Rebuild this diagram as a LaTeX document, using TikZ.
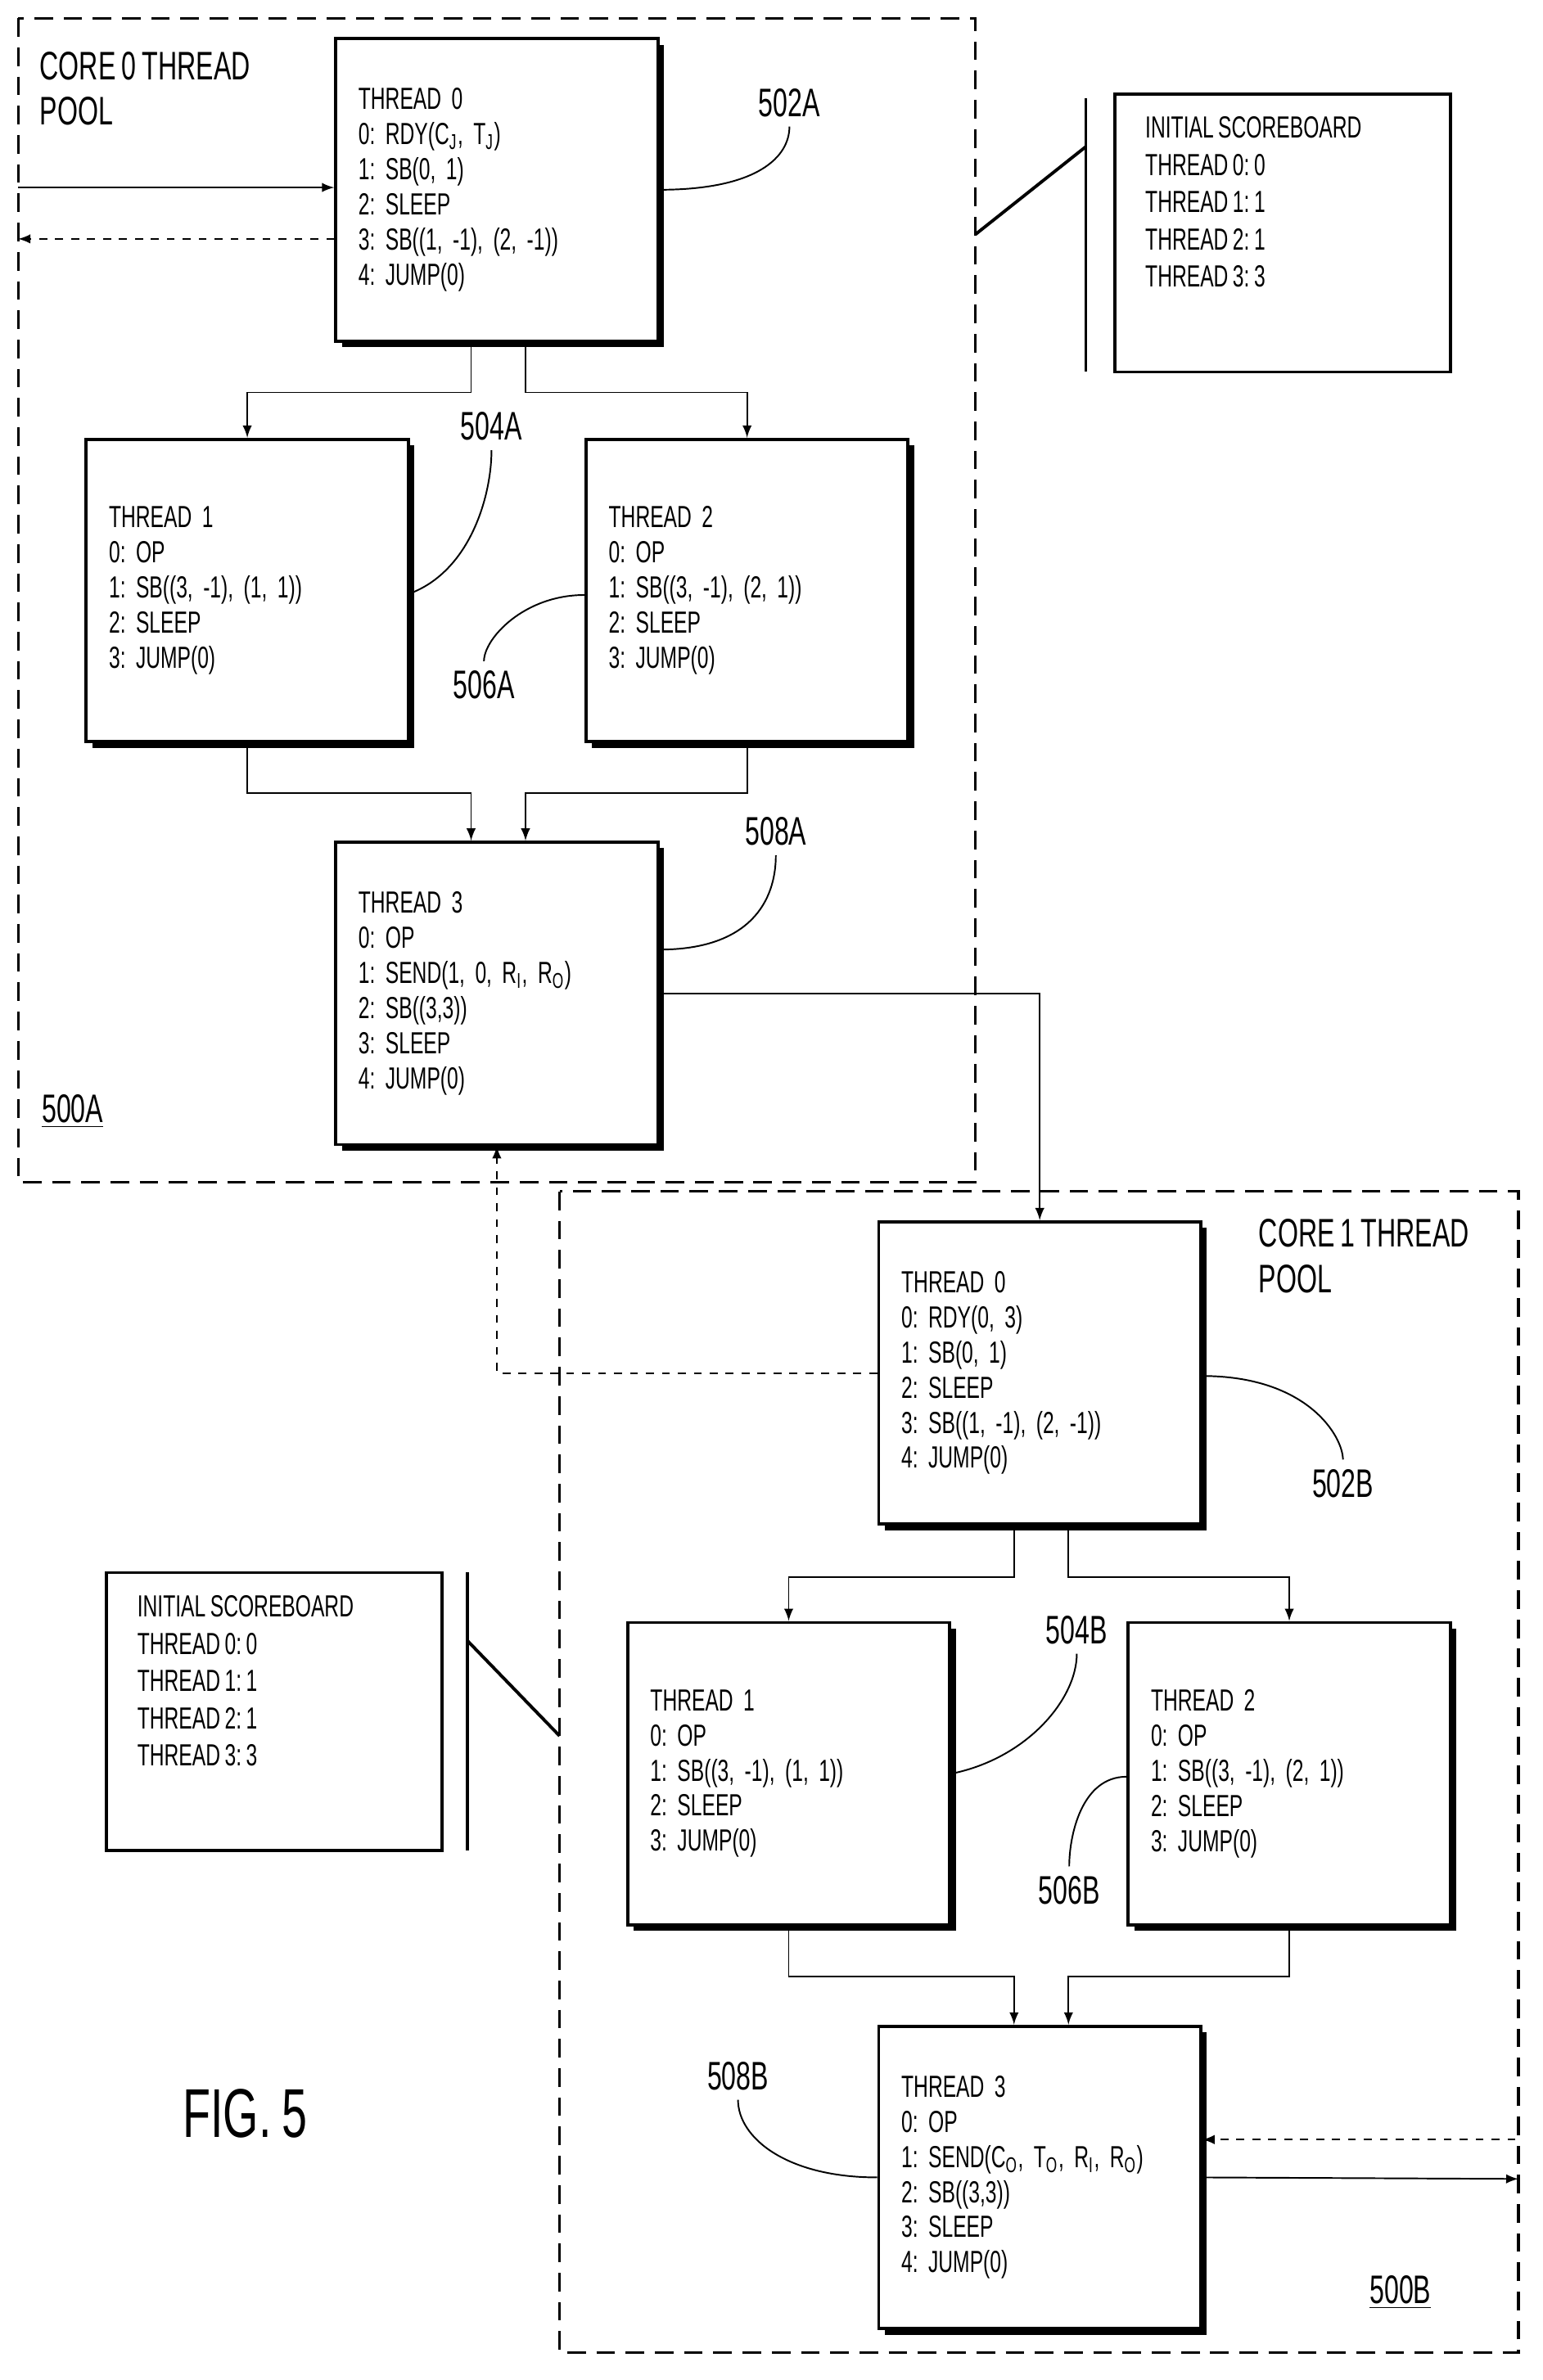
\documentclass[tikz,border=0pt]{standalone}
\usepackage{fontspec}
\setmainfont{Liberation Sans}[FakeStretch=0.66, WordSpace=0.8]
\frenchspacing
\usetikzlibrary{arrows, shapes, positioning, shadows}

\begin{document}
\frenchspacing
\begin{tikzpicture}[x=0.02cm,y=-0.02cm,->,>=latex,line width=0.6pt]

	\tikzset{thread box/.style={draw, -, line width=1.2pt, fill=white,
			minimum width=4.26cm, minimum height=4cm,
			text width=3.66cm, align=left,
			font=\fontsize{11.5}{13.2}\selectfont\frenchspacing,
			drop shadow={shadow xshift=0.08cm, shadow yshift=-0.08cm, fill=black, opacity=1}}}
	\tikzset{score box/.style={draw, -, line width=1.2pt,
			minimum width=4.44cm, minimum height=3.68cm}}
	\tikzset{score text/.style={anchor=north west, align=left,
			font=\fontsize{11.5}{14}\selectfont}}
	\tikzset{ref label/.style={font=\fontsize{15}{17}\selectfont}}
	\tikzset{pool/.style={-, dashed, line width=1pt, dash pattern=on 7pt off 4pt}}

	\useasboundingbox (0,0) rectangle (1020,1574);

	% thread pools
	\draw[pool] (12,12) rectangle (645,782);
	\draw[pool] (370,788) rectangle (1004,1556);
	\node[ref label, anchor=north west, align=left] (poola) at (20,28) {CORE 0 THREAD\\POOL};
	\node[ref label, anchor=north west, align=left] (poolb) at (826,800) {CORE 1 THREAD\\POOL};

	% core 0
	\node[thread box] (t0a) at (328.5,125.5) {THREAD 0\\0: RDY(C\textsubscript{J}, T\textsubscript{J})\\1: SB(0, 1)\\2: SLEEP\\3: SB((1, -1), (2, -1))\\4: JUMP(0)};
	\node[thread box] (t1a) at (163.5,390.5) {THREAD 1\\0: OP\\1: SB((3, -1), (1, 1))\\2: SLEEP\\3: JUMP(0)};
	\node[thread box] (t2a) at (494,390.5) {THREAD 2\\0: OP\\1: SB((3, -1), (2, 1))\\2: SLEEP\\3: JUMP(0)};
	\node[thread box] (t3a) at (328.5,657) {THREAD 3\\0: OP\\1: SEND(1, 0, R\textsubscript{I}, R\textsubscript{O})\\2: SB((3,3))\\3: SLEEP\\4: JUMP(0)};

	% core 1
	\node[thread box] (t0b) at (687.5,908) {THREAD 0\\0: RDY(0, 3)\\1: SB(0, 1)\\2: SLEEP\\3: SB((1, -1), (2, -1))\\4: JUMP(0)};
	\node[thread box] (t1b) at (521.5,1173) {THREAD 1\\0: OP\\1: SB((3, -1), (1, 1))\\2: SLEEP\\3: JUMP(0)};
	\node[thread box] (t2b) at (852.5,1173) {THREAD 2\\0: OP\\1: SB((3, -1), (2, 1))\\2: SLEEP\\3: JUMP(0)};
	\node[thread box] (t3b) at (687.5,1440) {THREAD 3\\0: OP\\1: SEND(C\textsubscript{O}, T\textsubscript{O}, R\textsubscript{I}, R\textsubscript{O})\\2: SB((3,3))\\3: SLEEP\\4: JUMP(0)};

	% scoreboards
	\node[score box] (sba) at (848,154) {};
	\node[score text] (sbta) at ([xshift=0.3cm,yshift=-0.2cm]sba.north west) {INITIAL SCOREBOARD\\THREAD 0: 0\\THREAD 1: 1\\THREAD 2: 1\\THREAD 3: 3};
	\node[score box] (sbb) at (181.5,1132) {};
	\node[score text] (sbtb) at ([xshift=0.3cm,yshift=-0.2cm]sbb.north west) {INITIAL SCOREBOARD\\THREAD 0: 0\\THREAD 1: 1\\THREAD 2: 1\\THREAD 3: 3};
	\coordinate (bara1) at (718,65);
	\coordinate (bara2) at (718,246);
	\coordinate (barb1) at (309,1040);
	\coordinate (barb2) at (309,1224);
	\draw[-, line width=1.2pt] (bara1) -- (bara2);
	\draw[-, line width=1.2pt] (barb1) -- (barb2);
	\draw[-, line width=1.2pt] (645,155) -- (718,97);
	\draw[-, line width=1.2pt] (309,1085) -- (370,1148);

	% reference labels
	\node[ref label] (l502a) at (522,68) {502A};
	\node[ref label] (l504a) at (325,282) {504A};
	\node[ref label] (l506a) at (320,453) {506A};
	\node[ref label] (l508a) at (513,550) {508A};
	\node[ref label] (l502b) at (888,981) {502B};
	\node[ref label] (l504b) at (712,1078) {504B};
	\node[ref label] (l506b) at (707,1250) {506B};
	\node[ref label] (l508b) at (488,1373) {508B};
	\node[ref label] (l500a) at (48,735) {\underline{500A}};
	\node[ref label] (l500b) at (926,1516) {\underline{500B}};
	\node[font=\fontsize{26}{30}\selectfont] (fig) at (162,1398) {FIG. 5};

	% leader curves
	\draw[-] (t0a.east) .. controls +(1.3cm,0) and +(0,-0.4cm) .. (l502a.south);
	\draw[-] ([yshift=-0.04cm]t1a.east) .. controls +(0.8cm,0.3cm) and +(0,-0.6cm) .. (l504a.south);
	\draw[-] ([yshift=-0.06cm]t2a.west) .. controls +(-0.8cm,0) and +(0,0.3cm) .. (l506a.north);
	\draw[-] ([yshift=0.58cm]t3a.east) .. controls +(1.2cm,0) and +(0,-0.6cm) .. (l508a.south);
	\draw[-] ([yshift=-0.04cm]t0b.east) .. controls +(1.4cm,0) and +(0,0.3cm) .. (l502b.north);
	\draw[-] (t1b.east) .. controls +(1cm,0.2cm) and +(0,-0.6cm) .. (l504b.south);
	\draw[-] ([yshift=-0.04cm]t2b.west) .. controls +(-0.6cm,0) and +(0,0.4cm) .. (l506b.north);
	\draw[-] (t3b.west) .. controls +(-1.2cm,0) and +(0,-0.5cm) .. (l508b.south);

	% core 0 connectors
	\coordinate (ina) at (12,124);
	\coordinate (outa) at (12,158);
	\draw[->] (ina) -- (ina -| t0a.west);
	\draw[->, dashed] (outa -| t0a.west) -- (outa);
	\draw[->] ([xshift=-0.34cm]t0a.south) -- ++(0,-0.66cm) -| (t1a.north);
	\draw[->] ([xshift=0.38cm]t0a.south) -- ++(0,-0.66cm) -| (t2a.north);
	\draw[->] (t1a.south) -- ++(0,-0.66cm) -| ([xshift=-0.34cm]t3a.north);
	\draw[->] (t2a.south) -- ++(0,-0.66cm) -| ([xshift=0.38cm]t3a.north);

	% core 1 connectors
	\draw[->] (t3a.east) -| (t0b.north);
	\draw[->, dashed] (t0b.west) -| (t3a.south);
	\draw[->] ([xshift=-0.34cm]t0b.south) -- ++(0,-0.68cm) -| (t1b.north);
	\draw[->] ([xshift=0.38cm]t0b.south) -- ++(0,-0.68cm) -| (t2b.north);
	\draw[->] (t1b.south) -- ++(0,-0.66cm) -| ([xshift=-0.34cm]t3b.north);
	\draw[->] (t2b.south) -- ++(0,-0.66cm) -| ([xshift=0.38cm]t3b.north);
	\coordinate (inb) at (1002,1415);
	\coordinate (outb) at (1004,1441);
	\draw[->, dashed] (inb) -- (inb -| t3b.east);
	\draw[->] (t3b.east) -- (outb);

\end{tikzpicture}
\end{document}
